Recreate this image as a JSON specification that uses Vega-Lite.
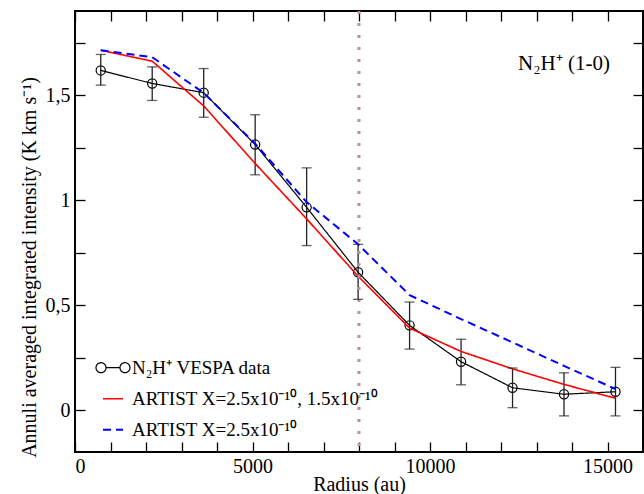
{
  "$schema": "https://vega.github.io/schema/vega-lite/v6.json",
  "width": 568,
  "height": 441,
  "autosize": {"type": "none"},
  "padding": {"left": 75, "top": 11, "right": 1, "bottom": 42},
  "background": "white",
  "config": {
    "font": "Liberation Serif",
    "view": {"stroke": "black", "strokeWidth": 2}
  },
  "datasets": {
    "rows": [
      {"r": 725, "I": 1.617, "lo": 1.547, "hi": 1.693, "series": "N₂H⁺ VESPA data"},
      {"r": 2175, "I": 1.555, "lo": 1.474, "hi": 1.634, "series": "N₂H⁺ VESPA data"},
      {"r": 3625, "I": 1.511, "lo": 1.394, "hi": 1.626, "series": "N₂H⁺ VESPA data"},
      {"r": 5075, "I": 1.264, "lo": 1.12, "hi": 1.406, "series": "N₂H⁺ VESPA data"},
      {"r": 6525, "I": 0.965, "lo": 0.783, "hi": 1.153, "series": "N₂H⁺ VESPA data"},
      {"r": 7975, "I": 0.656, "lo": 0.527, "hi": 0.789, "series": "N₂H⁺ VESPA data"},
      {"r": 9425, "I": 0.403, "lo": 0.29, "hi": 0.514, "series": "N₂H⁺ VESPA data"},
      {"r": 10875, "I": 0.23, "lo": 0.12, "hi": 0.337, "series": "N₂H⁺ VESPA data"},
      {"r": 12325, "I": 0.106, "lo": 0.011, "hi": 0.2, "series": "N₂H⁺ VESPA data"},
      {"r": 13775, "I": 0.075, "lo": -0.028, "hi": 0.177, "series": "N₂H⁺ VESPA data"},
      {"r": 15225, "I": 0.087, "lo": -0.028, "hi": 0.203, "series": "N₂H⁺ VESPA data"},
      {"r": 725, "I": 1.713, "series": "ARTIST X=2.5x10⁻¹⁰, 1.5x10⁻¹⁰"},
      {"r": 2175, "I": 1.661, "series": "ARTIST X=2.5x10⁻¹⁰, 1.5x10⁻¹⁰"},
      {"r": 3625, "I": 1.448, "series": "ARTIST X=2.5x10⁻¹⁰, 1.5x10⁻¹⁰"},
      {"r": 5075, "I": 1.174, "series": "ARTIST X=2.5x10⁻¹⁰, 1.5x10⁻¹⁰"},
      {"r": 6525, "I": 0.91, "series": "ARTIST X=2.5x10⁻¹⁰, 1.5x10⁻¹⁰"},
      {"r": 7975, "I": 0.637, "series": "ARTIST X=2.5x10⁻¹⁰, 1.5x10⁻¹⁰"},
      {"r": 9425, "I": 0.39, "series": "ARTIST X=2.5x10⁻¹⁰, 1.5x10⁻¹⁰"},
      {"r": 10875, "I": 0.279, "series": "ARTIST X=2.5x10⁻¹⁰, 1.5x10⁻¹⁰"},
      {"r": 12325, "I": 0.196, "series": "ARTIST X=2.5x10⁻¹⁰, 1.5x10⁻¹⁰"},
      {"r": 13775, "I": 0.122, "series": "ARTIST X=2.5x10⁻¹⁰, 1.5x10⁻¹⁰"},
      {"r": 15225, "I": 0.056, "series": "ARTIST X=2.5x10⁻¹⁰, 1.5x10⁻¹⁰"},
      {"r": 725, "I": 1.713, "series": "ARTIST X=2.5x10⁻¹⁰"},
      {"r": 2175, "I": 1.68, "series": "ARTIST X=2.5x10⁻¹⁰"},
      {"r": 3625, "I": 1.51, "series": "ARTIST X=2.5x10⁻¹⁰"},
      {"r": 5075, "I": 1.268, "series": "ARTIST X=2.5x10⁻¹⁰"},
      {"r": 6525, "I": 0.99, "series": "ARTIST X=2.5x10⁻¹⁰"},
      {"r": 7975, "I": 0.789, "series": "ARTIST X=2.5x10⁻¹⁰"},
      {"r": 9425, "I": 0.547, "series": "ARTIST X=2.5x10⁻¹⁰"},
      {"r": 10875, "I": 0.433, "series": "ARTIST X=2.5x10⁻¹⁰"},
      {"r": 12325, "I": 0.322, "series": "ARTIST X=2.5x10⁻¹⁰"},
      {"r": 13775, "I": 0.21, "series": "ARTIST X=2.5x10⁻¹⁰"},
      {"r": 15225, "I": 0.1, "series": "ARTIST X=2.5x10⁻¹⁰"}
    ],
    "vline": [{"r": 8000}],
    "label": [{"r": 13775, "I": 1.619, "text": "N₂H⁺ (1-0)"}]
  },
  "resolve": {"axis": {"x": "independent", "y": "independent"}},
  "layer": [
    {
      "data": {"name": "rows"},
      "transform": [{"filter": "datum.lo != null"}],
      "mark": {"type": "point", "shape": "circle", "filled": false, "color": "black", "strokeWidth": 1.2, "size": 85, "opacity": 1},
      "encoding": {
        "x": {"field": "r", "type": "quantitative", "scale": {"domain": [0, 16000], "nice": false, "zero": false},
              "axis": {"orient": "bottom", "offset": -10, "values": [0, 1000, 2000, 3000, 4000, 5000, 6000, 7000, 8000, 9000, 10000, 11000, 12000, 13000, 14000, 15000],
                       "format": "d", "labelExpr": "datum.value % 5000 === 0 ? datum.label : ''",
                       "ticks": true, "tickSize": 10, "tickColor": "black", "tickWidth": 1.3, "domain": false, "grid": false,
                       "labelPadding": 4, "labelFontSize": 20, "labelColor": "black", "labelOverlap": false,
                       "title": "Radius (au)", "titleFont": "Liberation Serif", "titleFontSize": 20, "titleFontWeight": "normal", "titleColor": "black",
                       "titleBaseline": "alphabetic", "titleY": 48,
                       "encode": {"ticks": {"update": {"y": {"signal": "datum.value % 5000 === 0 ? 0 : 5"}}}}}},
        "y": {"field": "I", "type": "quantitative", "scale": {"domain": [-0.2, 1.9], "nice": false, "zero": false},
              "axis": {"orient": "left", "offset": -10, "values": [0, 0.25, 0.5, 0.75, 1, 1.25, 1.5, 1.75], "format": "~g",
                       "labelExpr": "(datum.value * 4) % 2 === 0 ? replace(datum.label, '.', ',') : ''",
                       "ticks": true, "tickSize": 10, "tickColor": "black", "tickWidth": 1.3, "domain": false, "grid": false,
                       "labelPadding": 5, "labelFontSize": 20, "labelColor": "black", "labelOverlap": false,
                       "title": "Annuli averaged integrated intensity (K km s⁻¹)", "titleFont": "Liberation Serif", "titleFontSize": 20, "titleFontWeight": "normal", "titleColor": "black",
                       "titleBaseline": "alphabetic", "titleX": -49.5, "titleY": 256, "titleAngle": 270,
                       "encode": {"ticks": {"update": {"x": {"signal": "(datum.value * 4) % 2 === 0 ? 0 : -5"}}}}}}
      }
    },
    {
      "data": {"name": "rows"},
      "transform": [{"filter": "datum.lo != null"}],
      "mark": {"type": "rule", "color": "#222222", "strokeWidth": 1.3},
      "encoding": {
        "x": {"field": "r", "type": "quantitative", "scale": {"domain": [0, 16000], "nice": false, "zero": false},
              "axis": {"orient": "top", "offset": -10, "values": [0, 1000, 2000, 3000, 4000, 5000, 6000, 7000, 8000, 9000, 10000, 11000, 12000, 13000, 14000, 15000],
                       "labels": false, "ticks": true, "tickSize": 10, "tickColor": "black", "tickWidth": 1.3, "domain": false, "grid": false, "title": null,
                       "encode": {"ticks": {"update": {"y": {"signal": "datum.value % 5000 === 0 ? 0 : -5"}}}}}},
        "y": {"field": "lo", "type": "quantitative", "scale": {"domain": [-0.2, 1.9], "nice": false, "zero": false},
              "axis": {"orient": "right", "offset": -10, "values": [0, 0.25, 0.5, 0.75, 1, 1.25, 1.5, 1.75],
                       "labels": false, "ticks": true, "tickSize": 10, "tickColor": "black", "tickWidth": 1.3, "domain": false, "grid": false, "title": null,
                       "encode": {"ticks": {"update": {"x": {"signal": "(datum.value * 4) % 2 === 0 ? 0 : 5"}}}}}},
        "y2": {"field": "hi"}
      }
    },
    {
      "data": {"name": "rows"},
      "mark": {"type": "line"},
      "encoding": {
        "x": {"field": "r", "type": "quantitative", "scale": {"domain": [0, 16000], "nice": false, "zero": false}, "axis": null},
        "y": {"field": "I", "type": "quantitative", "scale": {"domain": [-0.2, 1.9], "nice": false, "zero": false}, "axis": null},
        "color": {"field": "series", "type": "nominal",
                  "scale": {"domain": ["N₂H⁺ VESPA data", "ARTIST X=2.5x10⁻¹⁰, 1.5x10⁻¹⁰", "ARTIST X=2.5x10⁻¹⁰"], "range": ["black", "#ff0000", "#0000ff"]},
                  "legend": {
                    "title": null, "orient": "none", "legendX": 27, "legendY": 345.7, "padding": 0,
                    "symbolSize": 400, "symbolType": "stroke", "symbolStrokeWidth": 2, "rowPadding": 10,
                    "labelFont": "Liberation Serif", "labelFontSize": 19, "labelColor": "black", "labelOffset": 8, "labelLimit": 400,
                    "encode": {"symbols": {"update": {
                      "shape": {"signal": "datum.value === 'N₂H⁺ VESPA data' ? 'M -0.7,0 A 0.5,0.5 0 1,1 -1.7,0 A 0.5,0.5 0 1,1 -0.7,0 L 0.7,0 A 0.5,0.5 0 1,1 1.7,0 A 0.5,0.5 0 1,1 0.7,0' : 'stroke'"},
                      "fill": {"value": "transparent"},
                      "strokeWidth": {"signal": "datum.value === 'N₂H⁺ VESPA data' ? 1.2 : 2"}
                    }}}
                  }},
        "strokeDash": {"field": "series", "type": "nominal",
                       "scale": {"domain": ["N₂H⁺ VESPA data", "ARTIST X=2.5x10⁻¹⁰, 1.5x10⁻¹⁰", "ARTIST X=2.5x10⁻¹⁰"], "range": [[1, 0], [1, 0], [8, 5]]},
                       "legend": {
                    "title": null, "orient": "none", "legendX": 27, "legendY": 345.7, "padding": 0,
                    "symbolSize": 400, "symbolType": "stroke", "symbolStrokeWidth": 2, "rowPadding": 10,
                    "labelFont": "Liberation Serif", "labelFontSize": 19, "labelColor": "black", "labelOffset": 8, "labelLimit": 400,
                    "encode": {"symbols": {"update": {
                      "shape": {"signal": "datum.value === 'N₂H⁺ VESPA data' ? 'M -0.7,0 A 0.5,0.5 0 1,1 -1.7,0 A 0.5,0.5 0 1,1 -0.7,0 L 0.7,0 A 0.5,0.5 0 1,1 1.7,0 A 0.5,0.5 0 1,1 0.7,0' : 'stroke'"},
                      "fill": {"value": "transparent"},
                      "strokeWidth": {"signal": "datum.value === 'N₂H⁺ VESPA data' ? 1.2 : 2"}
                    }}}
                  }},
        "strokeWidth": {"field": "series", "type": "nominal",
                        "scale": {"domain": ["N₂H⁺ VESPA data", "ARTIST X=2.5x10⁻¹⁰, 1.5x10⁻¹⁰", "ARTIST X=2.5x10⁻¹⁰"], "range": [1.2, 2, 2]},
                        "legend": null}
      }
    },
    {
      "data": {"name": "vline"},
      "mark": {"type": "rule", "color": "#b39595", "strokeWidth": 3, "strokeDash": [3, 9]},
      "encoding": {
        "x": {"field": "r", "type": "quantitative", "scale": {"domain": [0, 16000], "nice": false, "zero": false}, "axis": null}
      }
    },
    {
      "data": {"name": "rows"},
      "transform": [{"filter": "datum.lo != null"}],
      "mark": {"type": "tick", "orient": "horizontal", "color": "#222222", "thickness": 1.3, "size": 10},
      "encoding": {
        "x": {"field": "r", "type": "quantitative", "scale": {"domain": [0, 16000], "nice": false, "zero": false}, "axis": null},
        "y": {"field": "lo", "type": "quantitative", "scale": {"domain": [-0.2, 1.9], "nice": false, "zero": false}, "axis": null}
      }
    },
    {
      "data": {"name": "rows"},
      "transform": [{"filter": "datum.lo != null"}],
      "mark": {"type": "tick", "orient": "horizontal", "color": "#222222", "thickness": 1.3, "size": 10},
      "encoding": {
        "x": {"field": "r", "type": "quantitative", "scale": {"domain": [0, 16000], "nice": false, "zero": false}, "axis": null},
        "y": {"field": "hi", "type": "quantitative", "scale": {"domain": [-0.2, 1.9], "nice": false, "zero": false}, "axis": null}
      }
    },
    {
      "data": {"name": "label"},
      "mark": {"type": "text", "font": "Liberation Serif", "fontSize": 21, "color": "black", "align": "center", "baseline": "alphabetic"},
      "encoding": {
        "x": {"field": "r", "type": "quantitative", "scale": {"domain": [0, 16000], "nice": false, "zero": false}, "axis": null},
        "y": {"field": "I", "type": "quantitative", "scale": {"domain": [-0.2, 1.9], "nice": false, "zero": false}, "axis": null},
        "text": {"field": "text"}
      }
    }
  ]
}
